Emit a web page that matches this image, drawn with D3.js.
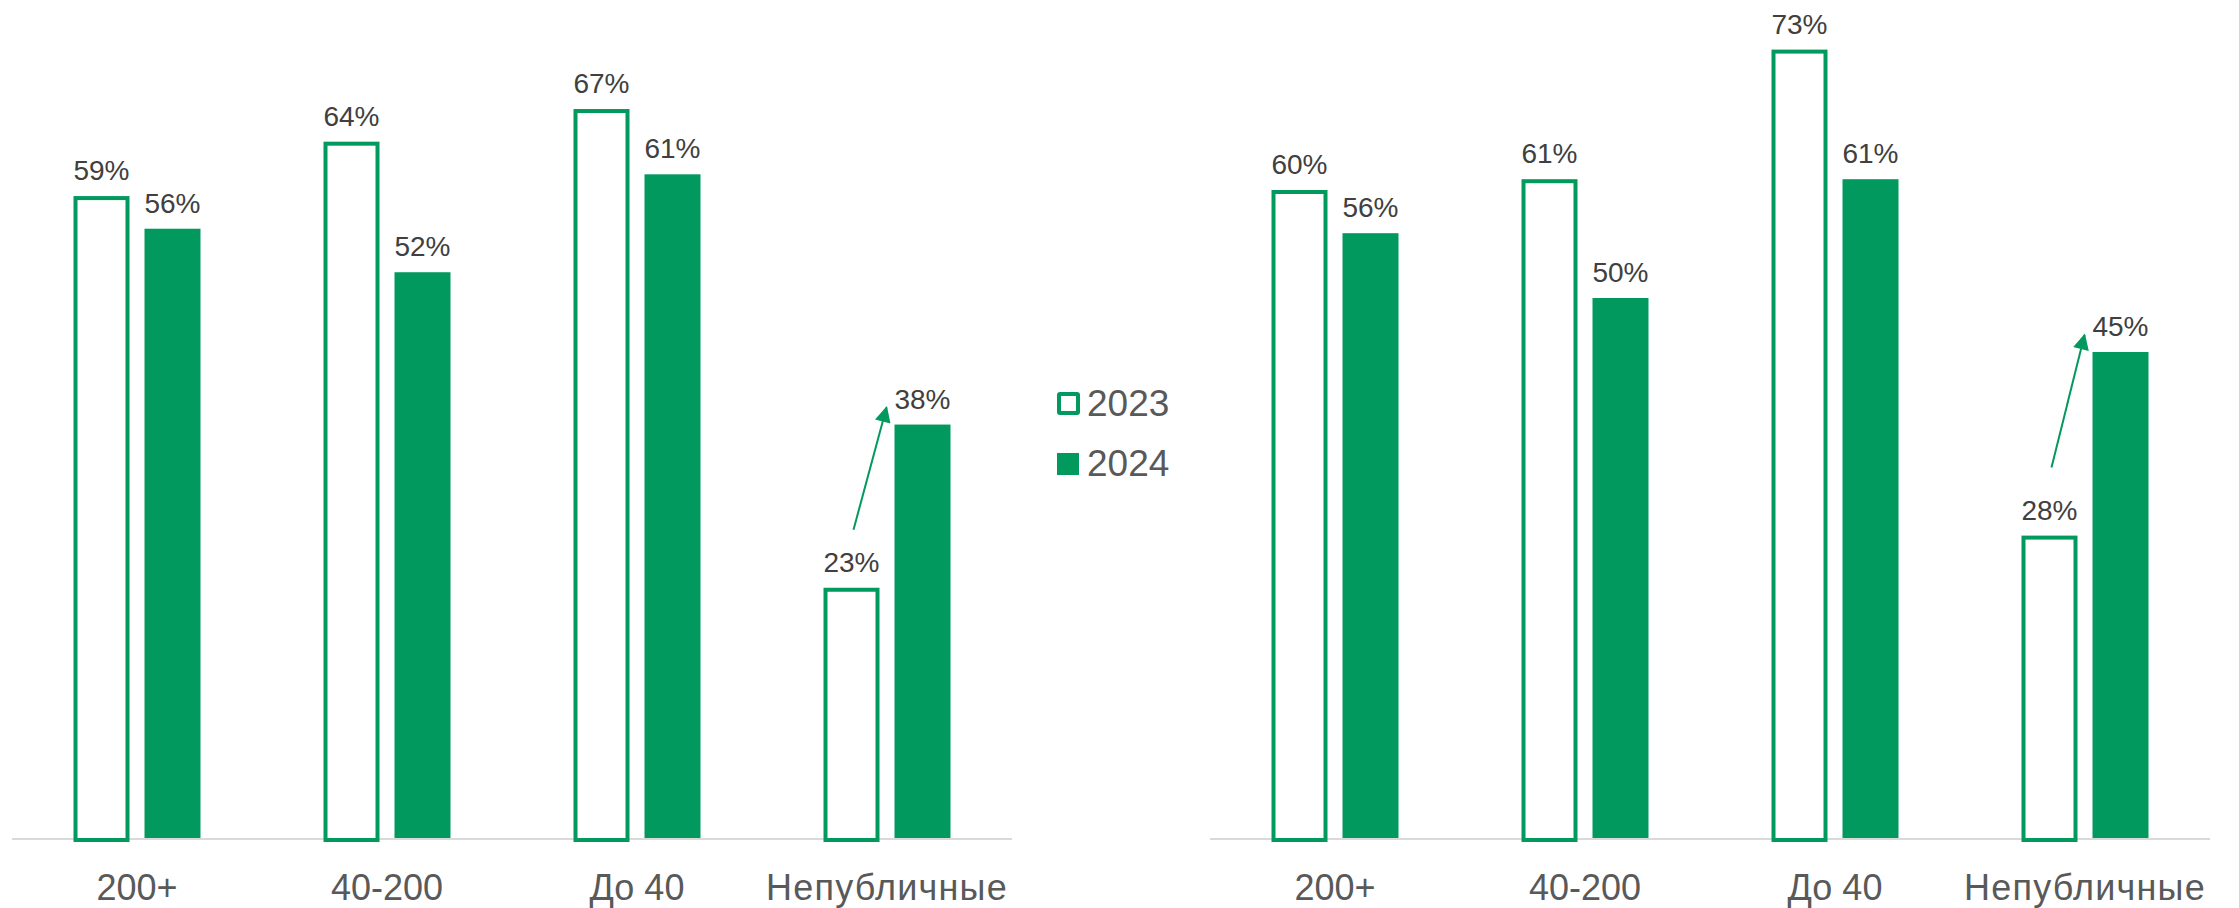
<!DOCTYPE html>
<html>
<head>
<meta charset="utf-8">
<script src="https://cdn.jsdelivr.net/npm/d3@7"></script>
<style>
  body { margin: 0; background: #fff; }
  svg { display: block; font-family: "Liberation Sans", Arial, sans-serif; }
</style>
</head>
<body>
<div id="chart"></div>
<script>
// data
const categories = ["200+", "40-200", "До 40", "Непубличные"];
const years = ["2023", "2024"];
const left2023 = [59, 64, 67, 23];
const left2024 = [56, 52, 61, 38];
const right2023 = [60, 61, 73, 28];
const right2024 = [56, 50, 61, 45];

const width = 2239, height = 908;
const green = "#02995f";
const baseY = 838;

const svg = d3.select("#chart").append("svg")
  .attr("width", width)
  .attr("height", height);

svg.append("defs").append("marker")
  .attr("id", "arrow")
  .attr("viewBox", "0 0 10 10")
  .attr("refX", 9).attr("refY", 5)
  .attr("markerWidth", 9).attr("markerHeight", 8)
  .attr("markerUnits", "strokeWidth")
  .attr("orient", "auto")
  .append("path")
  .attr("d", "M0,0 L10,5 L0,10 z")
  .attr("fill", green);

function drawChart(x0, x1, pxPer100, vals2023, vals2024, arrowUp) {
  const y = d3.scaleLinear().domain([0, 100]).range([baseY, baseY - pxPer100]);
  const x = d3.scaleBand().domain(categories).range([x0, x1]).paddingInner(0.492).paddingOuter(0.246);
  const xs = d3.scaleBand().domain(years).range([0, x.bandwidth()]).paddingInner(15 / 71);
  const g = svg.append("g");

  // axis line
  g.append("line")
    .attr("x1", x0).attr("x2", x1)
    .attr("y1", baseY + 1).attr("y2", baseY + 1)
    .attr("stroke", "#d9d9d9").attr("stroke-width", 2);

  const rows = categories.map((c, i) => ({ c: c, a: vals2023[i], b: vals2024[i] }));

  // 2023 outlined bars
  g.selectAll(".b23").data(rows).join("rect")
    .attr("x", d => x(d.c) + xs("2023") + 2)
    .attr("y", d => y(d.a) + 2)
    .attr("width", xs.bandwidth() - 4)
    .attr("height", d => baseY - y(d.a))
    .attr("fill", "#fff")
    .attr("stroke", green).attr("stroke-width", 4);

  // 2024 filled bars
  g.selectAll(".b24").data(rows).join("rect")
    .attr("x", d => x(d.c) + xs("2024"))
    .attr("y", d => y(d.b))
    .attr("width", xs.bandwidth())
    .attr("height", d => baseY - y(d.b))
    .attr("fill", green);

  // value labels
  g.selectAll(".l23").data(rows).join("text")
    .attr("x", d => x(d.c) + xs("2023") + xs.bandwidth() / 2)
    .attr("y", d => y(d.a) - 16)
    .attr("text-anchor", "middle")
    .attr("font-size", 28).attr("fill", "#404040")
    .text(d => d.a + "%");
  g.selectAll(".l24").data(rows).join("text")
    .attr("x", d => x(d.c) + xs("2024") + xs.bandwidth() / 2)
    .attr("y", d => y(d.b) - 16)
    .attr("text-anchor", "middle")
    .attr("font-size", 28).attr("fill", "#404040")
    .text(d => d.b + "%");

  // category labels
  g.selectAll(".cat").data(categories).join("text")
    .attr("x", d => x(d) + x.bandwidth() / 2)
    .attr("y", 900)
    .attr("text-anchor", "middle")
    .attr("font-size", 36).attr("fill", "#595959")
    .attr("letter-spacing", d => /[А-я]{5,}/.test(d) ? 1.2 : 0)
    .text(d => d);

  // growth arrow on the last category
  const last = rows[rows.length - 1];
  g.append("line")
    .attr("x1", x(last.c) + xs("2023") + xs.bandwidth() / 2 + 2)
    .attr("y1", y(last.a) - 16 - arrowUp)
    .attr("x2", x(last.c) + xs("2024") - 8)
    .attr("y2", y(last.b) - 17)
    .attr("stroke", green).attr("stroke-width", 2)
    .attr("marker-end", "url(#arrow)");
}

drawChart(12, 1012, 1088, left2023, left2024, 42);
drawChart(1210, 2210, 1080, right2023, right2024, 52);

// legend
const legend = svg.append("g");
legend.append("rect")
  .attr("x", 1059).attr("y", 394).attr("width", 19).attr("height", 19)
  .attr("fill", "#fff").attr("stroke", green).attr("stroke-width", 4).attr("rx", 1);
legend.append("text")
  .attr("x", 1087).attr("y", 416)
  .attr("font-size", 37).attr("fill", "#595959")
  .text(years[0]);
legend.append("rect")
  .attr("x", 1057).attr("y", 453).attr("width", 22).attr("height", 22)
  .attr("fill", green);
legend.append("text")
  .attr("x", 1087).attr("y", 476)
  .attr("font-size", 37).attr("fill", "#595959")
  .text(years[1]);
</script>
</body>
</html>
